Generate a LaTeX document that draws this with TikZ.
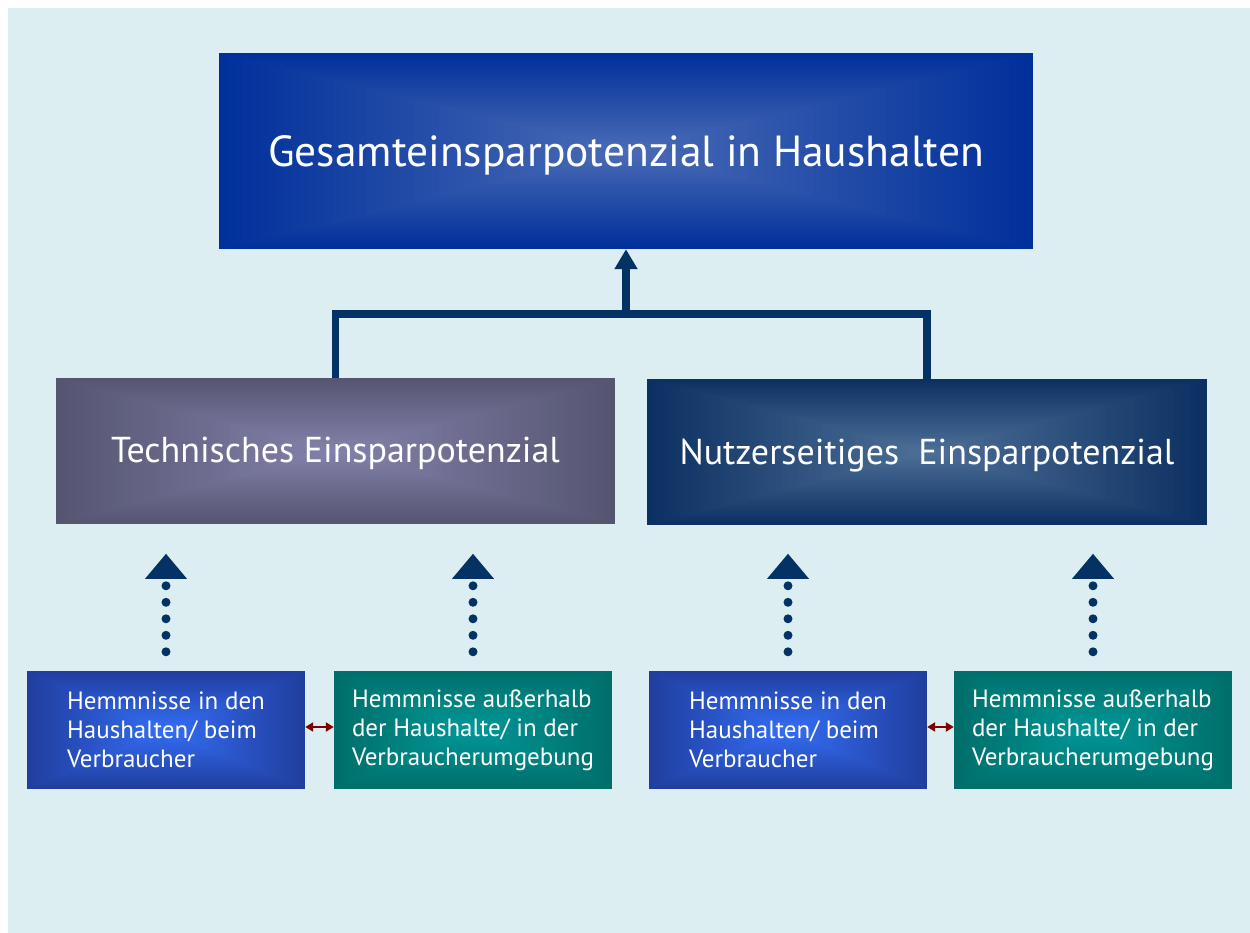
\documentclass[tikz,border=0pt]{standalone}
\usepackage{fontspec}
\setmainfont{PT Sans}
\usetikzlibrary{arrows.meta,calc}
\definecolor{bgcol}{RGB}{220,238,242}
\definecolor{navy}{RGB}{4,50,100}
\definecolor{dred}{RGB}{128,0,0}
\definecolor{topout}{RGB}{0,48,155}
\definecolor{topin}{RGB}{75,108,182}
\definecolor{tlout}{RGB}{85,85,113}
\definecolor{tlin}{RGB}{132,130,172}
\definecolor{trout}{RGB}{12,48,98}
\definecolor{trin}{RGB}{78,112,152}
\definecolor{blout}{RGB}{32,62,158}
\definecolor{blin}{RGB}{52,110,245}
\definecolor{teout}{RGB}{0,110,106}
\definecolor{tein}{RGB}{0,152,152}
\pgfdeclarelayer{back}
\pgfdeclarelayer{grad}
\pgfsetlayers{back,grad,main}
\newcommand\gradfill[5]{%
  \foreach \gi in {0,...,50}{%
    \pgfmathsetmacro\gfw{#2*(1-\gi/50)}%
    \pgfmathsetmacro\gfh{#3*(1-\gi/50)}%
    \pgfmathtruncatemacro\gp{2*\gi}%
    \fill[#5!\gp!#4] ($(#1)+(-\gfw,-\gfh)$) rectangle ($(#1)+(\gfw,\gfh)$);
  }}
\tikzset{
  box/.style={inner sep=0pt, text=white, align=center},
  smallbox/.style={box, align=left, font=\fontsize{25}{29}\selectfont, minimum width=278pt, minimum height=118pt},
  conn/.style={navy, line width=7.5pt},
  dotconn/.style={navy, line width=9pt, line cap=round, dash pattern=on 0pt off 16.5pt},
  dbl/.style={dred, line width=2.5pt, {Triangle[width=9pt,length=8pt]}-{Triangle[width=9pt,length=8pt]}},
}
\begin{document}
\begin{tikzpicture}[x=1pt,y=-1pt]
\useasboundingbox (0,0) rectangle (1250,933);
\begin{pgfonlayer}{back}
\fill[bgcol] (8,8) rectangle (1250,933);
\end{pgfonlayer}
% nodes
\node[box, minimum width=814pt, minimum height=196pt, text height=32pt, text depth=0pt, font=\fontsize{43.5}{50}\selectfont] (top) at (626,151) {Gesamteinsparpotenzial in Haushalten};
\node[box, minimum width=559pt, minimum height=146pt, text height=22pt, text depth=0pt, font=\fontsize{36}{42}\selectfont] (tl) at (335.5,451) {Technisches Einsparpotenzial};
\node[box, minimum width=560pt, minimum height=146pt, text height=24pt, text depth=0pt, font=\fontsize{36}{42}\selectfont] (tr) at (927,452) {Nutzerseitiges\ \ Einsparpotenzial};
\node[smallbox] (b1) at (166,730) {Hemmnisse in den\\Haushalten/ beim\\Verbraucher};
\node[smallbox] (b2) at (473,730) {Hemmnisse außerhalb\\der Haushalte/ in der\\Verbraucherumgebung};
\node[smallbox] (b3) at (788,730) {Hemmnisse in den\\Haushalten/ beim\\Verbraucher};
\node[smallbox] (b4) at (1093,730) {Hemmnisse außerhalb\\der Haushalte/ in der\\Verbraucherumgebung};
\begin{pgfonlayer}{grad}
\gradfill{top}{407}{98}{topout}{topin}
\gradfill{tl}{279.5}{73}{tlout}{tlin}
\gradfill{tr}{280}{73}{trout}{trin}
\gradfill{b1}{139}{59}{blout}{blin}
\gradfill{b2}{139}{59}{teout}{tein}
\gradfill{b3}{139}{59}{blout}{blin}
\gradfill{b4}{139}{59}{teout}{tein}
\end{pgfonlayer}
% tree connector
\coordinate (j) at (626,314);
\draw[conn] (tl.north) |- (j) -| (tr.north);
\draw[conn, -{Triangle[width=22pt,length=20pt]}] (j) -- (top.south);
% dotted arrows
\foreach \b/\t in {b1/tl,b2/tl,b3/tr,b4/tr}{
  \draw[dotconn, shorten <=19pt, shorten >=55pt] (\b.north) -- (\b.north |- \t.south);
  \fill[navy] ($(\b.north)+(-21,-92)$) -- ($(\b.north)+(21,-92)$) -- ($(\b.north)+(0,-117)$) -- cycle;
}
% double arrows
\draw[dbl] ([yshift=3pt]b1.east) -- ([yshift=3pt]b2.west);
\draw[dbl] ([yshift=3pt]b3.east) -- ([yshift=3pt]b4.west);
\end{tikzpicture}
\end{document}
